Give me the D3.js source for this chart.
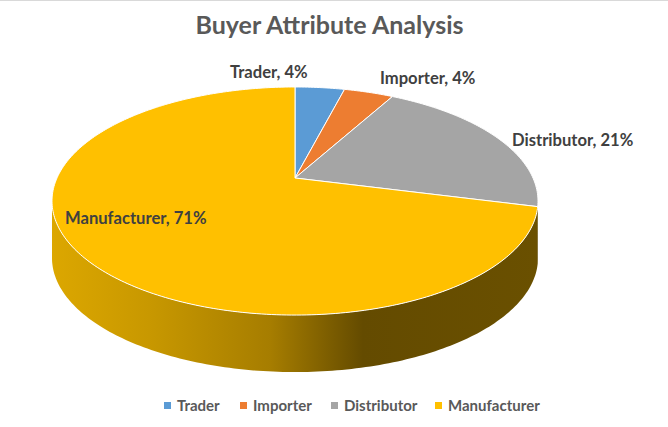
<!DOCTYPE html>
<html>
<head>
<meta charset="utf-8">
<script src="https://cdn.jsdelivr.net/npm/d3@7"></script>
<style>
html,body{margin:0;padding:0;background:#fff;}
svg{display:block;}
text{font-family:Lato,"Open Sans",sans-serif;font-weight:bold;}
</style>
</head>
<body>
<svg id="chart" width="668" height="427"></svg>
<script>
const title = "Buyer Attribute Analysis";
const categories = ["Trader", "Importer", "Distributor", "Manufacturer"];
const values = [4, 4, 21, 71];
const colors = ["#5b9bd5", "#ed7d31", "#a5a5a5", "#ffc000"];
const sideColors = ["#2e5f8c", "#9a4c16", "#5e5e5e", "url(#sideGrad)"];

const W = 668, H = 427;
const svg = d3.select("#chart");

// background + top border
svg.append("rect").attr("width", W).attr("height", H).attr("fill", "#fff");
svg.append("line").attr("x1", 0).attr("x2", W).attr("y1", 0.5).attr("y2", 0.5)
  .attr("stroke", "#d9d9d9").attr("stroke-width", 1);

// perspective projection of a tilted disc
const cx = 295, cy = 178, A = 238, B = 109.4, c = 0.2018, depth = 57;
function proj(theta, r = 1) {
  const u = Math.sin(theta) * r, v = -Math.cos(theta) * r;
  const d = 1 - c * v;
  return [cx + A * u / d, cy + B * v / d];
}

const pie = d3.pie().sort(null).value(d => d)(values);

const defs = svg.append("defs");
const g = defs.append("linearGradient").attr("id", "sideGrad")
  .attr("gradientUnits", "userSpaceOnUse")
  .attr("x1", 52).attr("x2", 538).attr("y1", 0).attr("y2", 0);
[[0, "#dca700"], [0.2, "#c89800"], [0.45, "#a67d00"], [0.64, "#644b00"], [1, "#6a5000"]]
  .forEach(s => g.append("stop").attr("offset", s[0]).attr("stop-color", s[1]));

// visible side range: between silhouette angles
const thR = Math.PI - Math.acos(c);   // right extreme
const thL = Math.PI + Math.acos(c);   // left extreme

function sample(a0, a1, n) {
  const pts = [];
  for (let i = 0; i <= n; i++) pts.push(a0 + (a1 - a0) * i / n);
  return pts;
}

const sides = svg.append("g");
pie.forEach((p, i) => {
  const a0 = Math.max(p.startAngle, thR), a1 = Math.min(p.endAngle, thL);
  if (a1 <= a0) return;
  const n = Math.max(4, Math.ceil((a1 - a0) * 60));
  const top = sample(a0, a1, n).map(t => proj(t));
  const bot = top.slice().reverse().map(q => [q[0], q[1] + depth]);
  const pts = top.concat(bot);
  sides.append("path")
    .attr("d", "M" + pts.map(q => q[0].toFixed(2) + "," + q[1].toFixed(2)).join("L") + "Z")
    .attr("fill", sideColors[i]);
});

const tops = svg.append("g");
pie.forEach((p, i) => {
  const n = Math.max(4, Math.ceil((p.endAngle - p.startAngle) * 60));
  const pts = [[cx, cy]].concat(sample(p.startAngle, p.endAngle, n).map(t => proj(t)));
  tops.append("path")
    .attr("d", "M" + pts.map(q => q[0].toFixed(2) + "," + q[1].toFixed(2)).join("L") + "Z")
    .attr("fill", colors[i])
    .attr("stroke", "#fff").attr("stroke-width", 1).attr("stroke-linejoin", "round");
});

// title
svg.append("text").attr("x", 329.5).attr("y", 34).attr("text-anchor", "middle")
  .attr("font-size", 25).attr("fill", "#595959").text(title);

// data labels
const labelPos = [[230, 78], [380, 84], [512, 146], [65, 224]];
pie.forEach((p, i) => {
  svg.append("text").attr("x", labelPos[i][0]).attr("y", labelPos[i][1])
    .attr("font-size", 16.6).attr("fill", "#404040")
    .text(categories[i] + ", " + values[i] + "%");
});

// legend
const legendX = [164, 240, 331, 435];
const legend = svg.append("g");
categories.forEach((cat, i) => {
  legend.append("rect").attr("x", legendX[i]).attr("y", 402).attr("width", 7).attr("height", 7)
    .attr("fill", colors[i]);
  legend.append("text").attr("x", legendX[i] + 13).attr("y", 411)
    .attr("font-size", 15).attr("fill", "#595959").text(cat);
});
</script>
</body>
</html>
